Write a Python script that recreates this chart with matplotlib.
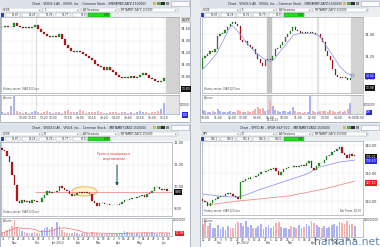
import numpy as np
import pandas as pd
import matplotlib
matplotlib.use("Agg")
import matplotlib.pyplot as plt
from matplotlib.patches import Rectangle, Ellipse
from matplotlib.transforms import blended_transform_factory

W, H = 380, 247
UP = "#1ea51e"
DOWN = "#c91515"
VOL_UP = "#adb3f2"
VOL_DOWN = "#f4b0b0"

# ---------------- data: top left, VVUS 1 min ----------------
p1_open0 = 14.63
p1_close = [14.64, 14.65, 14.63, 14.64, 14.70, 14.65, 14.64, 14.62, 14.63, 14.61,
            14.64, 14.66, 14.60, 14.55, 14.51, 14.49, 14.47, 14.49, 14.47, 14.52,
            14.44, 14.34, 14.28, 14.24, 14.22, 14.24, 14.21, 14.18, 14.15, 14.12,
            14.09, 14.02, 13.98, 13.96, 13.92, 13.96, 13.92, 13.89, 13.84, 13.80,
            13.78, 13.80, 13.79, 13.81, 13.78, 13.80, 13.84, 13.87, 13.83, 13.79,
            13.76, 13.73, 13.71, 13.74, 13.79]
p1_volume = [12, 8, 10, 45, 100, 15, 10, 8, 12, 6, 9, 14, 10, 8, 12, 18, 9, 7, 10, 12,
             8, 15, 20, 10, 9, 12, 24, 14, 8, 10, 9, 12, 16, 10, 8, 7, 9, 12, 10, 8,
             11, 9, 7, 10, 8, 12, 18, 10, 9, 8, 12, 10, 14, 30, 62]
p1_ticks = [7, 10, 14, 17, 22, 26, 30, 34, 38, 42, 46, 50, 54]
p1_tick_labels = ["13:00", "13:10", "13:20", "13:30", "13:50", "14:00", "14:10",
                  "14:20", "14:30", "14:40", "14:50", "15:00", "15:10"]
p1_yticks = [14.60, 14.40, 14.20, 14.00, 13.80]

# ---------------- data: top right, VVUS 5 min ----------------
p2_open0 = 14.08
p2_close = [14.18, 14.20, 14.22, 14.25, 14.24, 14.26, 14.38, 14.40, 14.41, 14.44,
            14.46, 14.49, 14.51, 14.49, 14.47, 14.35, 14.33, 14.34, 14.30, 14.28,
            14.26, 14.22, 14.17, 14.14, 14.11, 14.16, 14.17, 14.16, 14.20, 14.26,
            14.27, 14.30, 14.33, 14.37, 14.40, 14.43, 14.46, 14.44, 14.43, 14.41,
            14.42, 14.41, 14.41, 14.42, 14.41, 14.40, 14.40, 14.36, 14.33, 14.25,
            14.20, 14.16, 14.08, 14.03, 14.01, 14.00, 14.01, 14.00, 13.98, 14.00]
p2_volume = [20, 15, 12, 10, 18, 12, 25, 14, 10, 12, 9, 15, 11, 10, 20, 18, 12, 10, 14, 12,
             15, 30, 38, 25, 35, 15, 20, 70, 45, 20, 14, 12, 16, 18, 12, 15, 40, 18, 12, 10,
             8, 12, 10, 100, 14, 12, 10, 18, 16, 14, 12, 20, 15, 12, 10, 14, 12, 18, 25, 60]
p2_ma_x = [0.3, 2.3, 5.6, 8.3, 10.3, 11.6, 13.6, 16.3, 18.9, 21.6, 24.3, 26.9, 28.3,
           30.3, 33.6, 36.3, 38.9, 44.3, 46.9, 49.6, 52.3, 54.9, 57.6, 59.6]
p2_ma = [14.088, 14.133, 14.224, 14.345, 14.436, 14.482, 14.436, 14.36, 14.285, 14.224,
         14.179, 14.148, 14.164, 14.224, 14.315, 14.391, 14.406, 14.406, 14.376, 14.285,
         14.194, 14.103, 14.043, 14.027]
p2_ticks = [1, 6, 11.7, 16, 21.7, 27, 32.5, 38, 43.7, 49, 54, 59.7, 63]
p2_tick_labels = ["10:00", "11:00", "12:00", "13:00", "14:00", "15:00", "10:00",
                  "11:00", "12:00", "13:00", "14:00", "15:00", "16:00"]
p2_yticks = [14.40, 14.20, 14.00]

# ---------------- data: bottom left, VVUS daily ----------------
p3_open0 = 11.75
p3_close = [11.70, 11.62, 11.40, 11.15, 10.55, 10.10, 9.35, 9.25, 9.40, 9.30,
            9.35, 9.28, 9.40, 9.36, 9.33, 9.30, 9.50, 9.65, 9.80, 9.72,
            9.78, 9.75, 9.80, 10.05, 9.95, 9.88, 9.80, 9.68, 9.58, 9.65,
            9.72, 9.75, 9.74, 9.76, 9.72, 9.70, 9.35, 9.25, 9.15, 9.25,
            9.28, 9.24, 9.22, 9.20, 9.18, 9.16, 9.20, 9.22, 9.30, 9.40,
            9.42, 9.45, 9.50, 9.52, 9.55, 9.60, 9.62, 9.55, 9.68, 9.72,
            9.80, 10.00, 10.02, 9.92, 9.85, 9.90, 9.82, 9.80]
p3_volume = [20, 25, 35, 45, 60, 95, 55, 40, 30, 25, 20, 18, 15, 22, 18, 20, 35, 45, 50, 40,
             55, 48, 80, 60, 35, 25, 20, 18, 15, 22, 16, 14, 18, 20, 15, 12, 25, 20, 15, 12,
             14, 10, 12, 15, 11, 13, 14, 18, 20, 30, 22, 18, 15, 14, 16, 12, 18, 25, 20, 15,
             22, 18, 14, 20, 16, 12, 18, 15]
p3_ticks = [0.5, 2.5, 4.5, 6.5, 8.5, 10.5, 12.5, 14.5, 16.5, 18.5, 20.5, 22.5, 24.5,
            26.5, 28.5, 30.5, 32.5, 34.5, 36.5, 38.5, 40.5, 42.5, 44.5, 46.5, 48.5,
            50.5, 52.5, 54.5, 56.5, 58.5, 60.5, 62.5, 64.5, 66.5]
p3_tick_labels = ["31", "7", "14", "21", "28", "5", "12", "19", "27", "3", "9", "17",
                  "23", "30", "6", "13", "21", "27", "5", "12", "19", "26", "2", "9",
                  "16", "23", "30", "7", "14", "21", "29", "4", "11", "18"]
p3_months = ["Nov", "Dec", "Jan 2012", "Feb", "Mar", "Apr", "May", "Jun"]
p3_month_pos = [5.2, 14, 22.4, 30.4, 38.4, 46.4, 55.2, 64.4]
p3_yticks = [12, 11, 10, 9]
p3_level = 9.77

# ---------------- data: bottom right, SPY daily ----------------
p4_open0 = 120.8
p4_close = [120.0, 119.6, 118.3, 119.2, 120.5, 120.8, 121.5, 121.8, 121.9, 122.6,
            123.0, 122.5, 121.9, 121.6, 120.6, 126.8, 127.3, 127.9, 128.0, 128.6,
            128.4, 129.0, 129.8, 130.2, 130.4, 130.6, 130.9, 131.5, 131.9, 130.6,
            129.2, 130.4, 131.4, 131.8, 132.2, 132.0, 132.4, 132.3, 132.6, 132.9,
            132.4, 133.5, 134.2, 131.8, 131.0, 132.6, 133.6, 133.4, 134.6, 136.2,
            136.6, 137.5, 138.0, 138.6, 139.2, 137.2, 136.5, 135.5, 136.8, 136.0, 136.4]
p4_volume = [70, 85, 60, 75, 50, 45, 65, 40, 55, 35, 60, 50, 45, 70, 80, 75, 60, 85, 55, 65,
             50, 45, 60, 70, 40, 55, 65, 50, 60, 75, 80, 55, 45, 50, 40, 60, 55, 45, 65, 50,
             55, 70, 60, 85, 75, 65, 55, 50, 60, 45, 55, 65, 70, 60, 80, 75, 70, 85, 65, 70, 60]
p4_ma50_x = [0, 8, 14, 18, 22, 28, 34, 41, 46, 54, 60]
p4_ma50 = [122.5, 121.6, 121.4, 122.5, 123.9, 125.7, 127.5, 129.6, 132.1, 133.9, 134.6]
p4_ma200_x = [2, 14, 22, 34, 48, 60]
p4_ma200 = [118.6, 120.0, 120.7, 121.8, 124.3, 127.1]
p4_ticks = [0.5, 2.7, 4.9, 7.1, 9.3, 11.5, 13.7, 15.9, 18.1, 20.3, 22.5, 24.7, 26.9,
            29.1, 31.3, 33.5, 35.7, 37.9, 40.1, 42.3, 44.5, 46.7, 48.9, 51.1, 53.3,
            55.5, 57.7, 59.9]
p4_tick_labels = ["12", "19", "28", "3", "9", "17", "23", "30", "6", "13", "21", "27",
                  "5", "12", "19", "26", "2", "9", "16", "23", "30", "7", "14", "21",
                  "29", "4", "11", "18"]
p4_months = ["Dec", "Jan 2012", "Feb", "Mar", "Apr", "May"]
p4_month_pos = [6.8, 15.9, 25.8, 34.5, 43.6, 53.1]
p4_yticks = [140, 130, 120]


fig = plt.figure(figsize=(3.8, 2.47), dpi=100)
bg = fig.add_axes([0, 0, 1, 1])
bg.set_xlim(0, W)
bg.set_ylim(H, 0)
bg.axis("off")
bg.add_patch(Rectangle((0, 0), W, H, fc="#e9ecef", ec="none"))


def px(x, y, w, h):
    return [x / W, 1 - (y + h) / H, w / W, h / H]


def window(x, y, w, h, title, fields, quotes, change):
    bg.add_patch(Rectangle((x, y), w, h, fc="white", ec="#a4aebb", lw=0.6))
    bg.add_patch(Rectangle((x + 0.3, y + 0.3), w - 0.6, 7, fc="#dbe2ea", ec="none"))
    bg.text(x + w * 0.47, y + 3.8, title, fontsize=2.2, ha="center", va="center", color="#1e1e1e")
    for k, c in enumerate(["#e6b83a", "#6b9e5c", "#2e2e2e", "#8a8a8a"]):
        bg.add_patch(Rectangle((x + w - 37 + k * 4.2, y + 1.6), 3.4, 3.8, fc=c, ec="none"))
    bg.add_patch(Rectangle((x + w - 19, y + 1.2), 17.5, 5.2, fc="#fbfbfb", ec="#a4aebb", lw=0.4))
    bg.add_patch(Rectangle((x + 0.3, y + 7.3), w - 0.6, 9.7, fc="#eceff2", ec="none"))
    starts = [0.01, 0.225, 0.43, 0.63]
    widths = [0.21, 0.195, 0.19, 0.305]
    for f, s, wd in zip(fields, starts, widths):
        bx = x + s * w
        bg.add_patch(Rectangle((bx, y + 7.8), wd * w, 4.6, fc="white", ec="#9aa3ad", lw=0.3))
        bg.text(bx + 1.5, y + 10.2, f, fontsize=2.0, va="center", color="#222")
        bg.text(bx + wd * w - 1.0, y + 10.2, "▼", fontsize=1.5, ha="right", va="center", color="#555")
    bg.add_patch(Rectangle((x + 1, y + 13), 2.5, 3.6, fc="#2040d0", ec="none"))
    for k, q in enumerate(quotes):
        bx = x + w * (0.03 + k * 0.088)
        bg.add_patch(Rectangle((bx, y + 13), w * 0.075, 3.6, fc="white", ec="#9aa3ad", lw=0.3))
        bg.text(bx + w * 0.071, y + 14.8, q, fontsize=1.8, ha="right", va="center", color="#222")
    bg.add_patch(Rectangle((x + w * 0.465, y + 13), w * 0.115, 3.6, fc="#22dd22", ec="#109010", lw=0.3))
    bg.text(x + w * 0.575, y + 14.8, change, fontsize=1.8, ha="right", va="center", color="#103010")


def chart_axes(box, xlim, ylim, xticks, yticks, ylabels):
    ax = fig.add_axes(px(*box))
    ax.set_xlim(*xlim)
    ax.set_ylim(*ylim)
    ax.yaxis.tick_right()
    ax.set_xticks(xticks)
    ax.set_yticks(yticks)
    ax.set_yticklabels(ylabels)
    ax.tick_params(length=0, labelsize=2.5, pad=1.5, colors="#333", labelbottom=False)
    ax.grid(True, ls=":", lw=0.3, color="#c0c0c0")
    ax.set_axisbelow(True)
    for s in ax.spines.values():
        s.set_linewidth(0.4)
        s.set_color("#8c96a0")
    ax.text(0.01, 0.03, "History server: VIA/F12 Done", transform=ax.transAxes,
            fontsize=1.8, color="#444", va="bottom")
    return ax


def volume_axes(box, xlim, xticks, xlabels, vmax, vtick, vlabel, xsize=2.2, xpad=1.2):
    av = fig.add_axes(px(*box))
    av.set_xlim(*xlim)
    av.set_ylim(0, vmax)
    av.yaxis.tick_right()
    av.set_xticks(xticks)
    av.set_xticklabels(xlabels)
    av.set_yticks([vtick])
    av.set_yticklabels([vlabel])
    av.tick_params(axis="y", length=0, labelsize=1.9, pad=0.8, colors="#333")
    av.tick_params(axis="x", length=0, labelsize=xsize, pad=xpad, colors="#333")
    av.grid(True, ls=":", lw=0.3, color="#c0c0c0")
    av.set_axisbelow(True)
    for s in av.spines.values():
        s.set_linewidth(0.4)
        s.set_color("#8c96a0")
    av.text(0.01, 0.95, "Volume", transform=av.transAxes, fontsize=1.8, color="#444", va="top")
    return av


def candles(ax, open0, closes, width=0.62):
    opens = [open0] + closes[:-1]
    lo_lim, hi_lim = ax.get_ylim()
    tiny = (hi_lim - lo_lim) * 0.006
    for i, (o, c) in enumerate(zip(opens, closes)):
        lo, hi = min(o, c), max(o, c)
        ax.add_patch(Rectangle((i - width / 2, lo), width, max(hi - lo, tiny),
                               fc=UP if c >= o else DOWN, ec="#1a1a1a", lw=0.15, zorder=3))
    return opens


def volume_bars(av, opens, closes, volumes):
    colors = [VOL_UP if c >= o else VOL_DOWN for o, c in zip(opens, closes)]
    av.bar(range(len(volumes)), volumes, width=0.7, color=colors, zorder=2)


def tag(ax, y, text, fc, tc):
    tr = blended_transform_factory(ax.transAxes, ax.transData)
    ax.text(1.015, y, text, transform=tr, fontsize=2.2, color=tc, ha="left", va="center",
            clip_on=False, bbox=dict(boxstyle="square,pad=0.2", fc=fc, ec="none"))


# ---------------- top left ----------------
window(0, 0, 190, 122, "Chart - VIVUS:1:All - VIVUS, Inc. - Common Stock - (MBTAMBT:ZAYZ:150000)",
       ["VVUS", "1", "All Sessions", "MBTAMBT:ZAYZ:150000"],
       ["13.87", "14.29", "13.76", "13.77", "13.9"], "0.30")
xl1 = (-0.4, 59)
ax1 = chart_axes((1, 17, 178, 76), xl1, (13.533, 14.80), p1_ticks, p1_yticks,
                 ["%.2f" % v for v in p1_yticks])
ax1.axvspan(54.7, 59, color="#d2d2d2", zorder=1)
ax1.axvline(11.3, color="#c8c8c8", lw=0.5)
o1 = candles(ax1, p1_open0, p1_close)
tag(ax1, 14.75, "14.77", "#cfcfcf", "#222")
tag(ax1, 13.60, "13.80", "#111111", "white")
av1 = volume_axes((1, 95, 178, 19), xl1, p1_ticks, p1_tick_labels, 105, 55, "200000")
av1.axvspan(54.7, 59, color="#e4e4e4", zorder=1)
av1.axvline(11.3, color="#c8c8c8", lw=0.5)
volume_bars(av1, o1, p1_close, p1_volume)
av1.text(1.02, -0.05, "100", transform=av1.transAxes, fontsize=2.0, color="white",
         va="center", clip_on=False, bbox=dict(boxstyle="square,pad=0.2", fc="#2a2ae0", ec="none"))

# ---------------- top right ----------------
window(200, 0, 180, 122, "Chart - VIVUS:5:All - VIVUS, Inc. - Common Stock - (MBTAMBT:ZAYZ:150000)",
       ["VVUS", "5", "All Sessions", "MBTAMBT:ZAYZ:150000"],
       ["13.87", "14.29", "13.76", "13.77", "13.9"], "0.30")
xl2 = (-0.27, 64.1)
ax2 = chart_axes((202, 17, 161, 76), xl2, (13.864, 14.555), p2_ticks, p2_yticks,
                 ["%.2f" % v for v in p2_yticks])
ax2.axvspan(25.9, 27.4, color="#c4c4c4", zorder=1)
ax2.axvspan(45.6, 46.3, color="#e2e2e2", zorder=1)
ax2.axvspan(59.5, 64.1, color="#d2d2d2", zorder=1)
o2 = candles(ax2, p2_open0, p2_close, width=0.55)
ax2.plot(p2_ma_x, p2_ma, color="#8c8cf0", lw=0.5, zorder=4)
ax2.plot(p2_ma_x[-1], p2_ma[-1], "o", ms=2.2, mfc="none", mec="#6f6fe0", mew=0.4, zorder=5)
tag(ax2, 14.018, "14.02", "#2a2ae0", "white")
tag(ax2, 13.91, "13.98", "#111111", "white")
av2 = volume_axes((202, 95, 161, 19), xl2, p2_ticks, p2_tick_labels, 105, 55, "1000000")
av2.axvspan(25.9, 27.4, color="#dadada", zorder=1)
av2.axvspan(45.6, 46.3, color="#ececec", zorder=1)
av2.axvspan(59.5, 64.1, color="#e4e4e4", zorder=1)
volume_bars(av2, o2, p2_close, p2_volume)
av2.text(1.02, 0.1, "100", transform=av2.transAxes, fontsize=2.0, color="white",
         va="center", clip_on=False, bbox=dict(boxstyle="square,pad=0.2", fc="#2a2ae0", ec="none"))
bg.text(273, 120.3, "05.14.13", fontsize=2.0, ha="center", va="center", color="#333")

# ---------------- bottom left ----------------
window(0, 124, 190, 123, "Chart - VIVUS:D:All - VIVUS, Inc. - Common Stock - (MBTAMBT:ZAYZ:150000)",
       ["VVUS", "D", "All Sessions", "MBTAMBT:ZAYZ:150000"],
       ["13.87", "14.29", "13.76", "13.77", "13.9"], "0.30")
xl3 = (-0.4, 68)
ax3 = chart_axes((1, 142, 171, 74), xl3, (8.68, 12.045), p3_ticks, p3_yticks,
                 ["%.2f" % v for v in p3_yticks])
ax3.add_patch(Ellipse((33, 9.80), 10, 0.42, fc="#fff4cf", ec="#f2b25a", lw=0.7, zorder=2))
ax3.hlines(p3_level, 13, 68, color="#f07878", lw=0.5, zorder=2)
o3 = candles(ax3, p3_open0, p3_close, width=0.6)
ax3.annotate("", xy=(46, 9.92), xytext=(46, 11.12),
             arrowprops=dict(arrowstyle="-|>", color="#1f5a66", lw=0.8, mutation_scale=4))
ax3.text(44.8, 11.38, "Уровень поддержки и\nсопротивления", color="#e03030", fontsize=2.1,
         ha="center", va="center", linespacing=1.1)
tag(ax3, p3_level, "9.80", "#111111", "white")
av3 = volume_axes((1, 218, 171, 18), xl3, p3_ticks, p3_tick_labels, 105, 95, "20000000",
                  xsize=2.0, xpad=0.6)
volume_bars(av3, o3, p3_close, p3_volume)
av3.plot(range(len(p3_volume)), pd.Series(p3_volume).rolling(10, min_periods=1).mean(),
         color="#f07070", lw=0.5, zorder=3)
for m, pos in zip(p3_months, p3_month_pos):
    av3.text(pos, -0.40, m, transform=av3.get_xaxis_transform(), fontsize=2.1,
             ha="center", va="center", color="#333")
av3.text(1.02, 0.15, "17.5M", transform=av3.transAxes, fontsize=2.0, color="white",
         va="center", clip_on=False, bbox=dict(boxstyle="square,pad=0.2", fc="#e02020", ec="none"))

# ---------------- bottom right ----------------
window(200, 124, 180, 123, "Chart - SPY:D:All - SPDR S&P 500 - (MBTAMBT:ZAYZ:150000)",
       ["SPY", "D", "All Sessions", "MBTAMBT:ZAYZ:150000"],
       ["136.1", "136.9", "135.4", "136.2", "136.0"], "0.30")
xl4 = (-0.26, 63.3)
ax4 = chart_axes((202, 141, 161, 74), xl4, (115.0, 141.43), p4_ticks, p4_yticks,
                 ["%.2f" % v for v in p4_yticks])
ax4.plot(p4_ma200_x, p4_ma200, color="#f28c8c", lw=0.6, zorder=2)
ax4.plot(p4_ma50_x, p4_ma50, color="#9a9af2", lw=0.6, zorder=2)
o4 = candles(ax4, p4_open0, p4_close, width=0.55)
tag(ax4, 135.7, "136.22", "#111111", "white")
tag(ax4, 134.3, "134.60", "#2a2ae0", "white")
tag(ax4, 126.4, "127.10", "#e02020", "white")
ax4.text(0.99, 0.03, "Bar Timer: 02:30", transform=ax4.transAxes, fontsize=1.8,
         color="#444", ha="right", va="bottom")
av4 = volume_axes((202, 218, 161, 19), xl4, p4_ticks, p4_tick_labels, 100, 92, "250000000",
                  xsize=2.0, xpad=0.6)
volume_bars(av4, o4, p4_close, p4_volume)
for m, pos in zip(p4_months, p4_month_pos):
    av4.text(pos, -0.33, m, transform=av4.get_xaxis_transform(), fontsize=2.1,
             ha="center", va="center", color="#333")

bg.text(347, 241.5, "hamaha.net", fontsize=7.8, color="#4f78a8", alpha=0.9,
        ha="center", va="center", zorder=10)

fig.savefig("out.png", dpi=100)
